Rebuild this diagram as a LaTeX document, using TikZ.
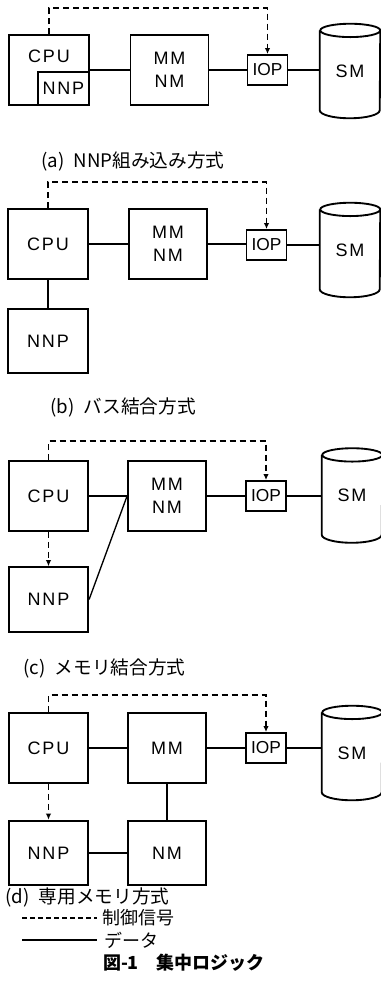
\documentclass[tikz,border=0pt]{standalone}
\usepackage{fontspec}
\setmainfont{Liberation Sans}
\newfontfamily\spacedfont[LetterSpace=10]{Liberation Sans}
\newfontfamily\jpfont{Noto Sans CJK JP}
\usetikzlibrary{arrows.meta}
\usetikzlibrary{positioning}

\tikzset{
  box/.style={line width=1.4pt},
  unit/.style={box, draw, inner sep=0pt, align=center, font=\spacedfont\fontsize{13.5}{17}\selectfont},
  cpu/.style={unit, minimum width=59.5pt, minimum height=52.5pt},
  mem/.style={unit, minimum width=58.5pt, minimum height=52.5pt},
  nnp/.style={unit, minimum width=59.5pt, minimum height=48.5pt},
  iop/.style={unit, minimum width=30pt, minimum height=22.5pt, font=\fontsize{13}{16}\selectfont},
  drum/.style={inner sep=0pt, minimum width=45pt, minimum height=70.5pt, font=\spacedfont\fontsize{13.5}{16}\selectfont},
  wire/.style={line width=1pt},
  ctrlline/.style={line width=1pt, dash pattern=on 4.5pt off 3pt},
  ctrl/.style={ctrlline, -{Latex[length=4.5pt,width=4pt]}},
  caption/.style={anchor=west, inner sep=0pt, font=\jpfont\fontsize{14}{16}\selectfont},
}

% drum outline round a node (secondary memory)
\newcommand{\smdrum}[1]{%
  \draw[box] ([yshift=-5pt]#1.north west) -- ([yshift=6pt]#1.south west)
    arc[start angle=180, end angle=360, x radius=22.5pt, y radius=6pt]
    -- ([yshift=-5pt]#1.north east)
    arc[start angle=0, end angle=180, x radius=22.5pt, y radius=5pt]
    arc[start angle=180, end angle=360, x radius=22.5pt, y radius=5pt];}

\begin{document}
\begin{tikzpicture}[x=0.75pt, y=-0.75pt]
  \useasboundingbox (0,0) rectangle (381,1008);

  % (a) NNP inside the CPU
  \node[cpu, label={[font=\spacedfont\fontsize{13.5}{16}\selectfont, yshift=10pt]center:CPU}] (cpuA) at (49,70) {};
  \node[unit, minimum width=38pt, minimum height=25pt, anchor=south east] (nnpA) at (cpuA.south east) {NNP};
  \node[mem]  (mmA)  at (169.5,70) {MM\\NM};
  \node[iop]  (iopA) at (267.5,70) {IOP};
  \node[drum] (smA)  at (350,71)   {SM};
  \smdrum{smA}
  \draw[wire] (cpuA.east) -- (mmA.west);
  \draw[wire] (mmA.east) -- (iopA.west);
  \draw[wire] (iopA.east) -- (iopA.east -| smA.west);
  \draw[ctrl] (cpuA.north) -- ++(0,-26) -| (iopA.north);
  \node[caption] (capA) at (41,161) {(a)\enspace NNP組み込み方式};

  % (b) bus coupling
  \node[cpu]  (cpuB) at (48,244)   {CPU};
  \node[nnp]  (nnpB) at (48,341)   {NNP};
  \node[mem]  (mmB)  at (168,244)  {MM\\NM};
  \node[iop]  (iopB) at (266.5,245) {IOP};
  \node[drum] (smB)  at (350,250)  {SM};
  \smdrum{smB}
  \draw[wire] (cpuB.east) -- (mmB.west);
  \draw[wire] (cpuB.south) -- (nnpB.north);
  \draw[wire] (mmB.east) -- (mmB.east -| iopB.west);
  \draw[wire] (iopB.east) -- (iopB.east -| smB.west);
  \draw[ctrl] (cpuB.north) -- ++(0,-26) -| (iopB.north);
  \node[caption] (capB) at (50,407) {(b)\enspace バス結合方式};

  % (c) memory coupling
  \node[cpu]  (cpuC) at (48.5,496) {CPU};
  \node[nnp]  (nnpC) at (48.5,599.5) {NNP};
  \node[mem]  (mmC)  at (167,496)  {MM\\NM};
  \node[iop]  (iopC) at (266,496)  {IOP};
  \node[drum] (smC)  at (352,495.5) {SM};
  \smdrum{smC}
  \draw[wire] (cpuC.east) -- (mmC.west);
  \draw[wire] (mmC.west) -- (nnpC.east);
  \draw[wire] (mmC.east) -- (iopC.west);
  \draw[wire] (iopC.east) -- (iopC.east -| smC.west);
  \draw[ctrl] (cpuC.north) -- ++(0,-19) -| (iopC.north);
  \draw[ctrl] (cpuC.south) -- (nnpC.north);
  \node[caption] (capC) at (23,668) {(c)\enspace メモリ結合方式};

  % (d) dedicated memory
  \node[cpu]  (cpuD) at (48.5,748) {CPU};
  \node[nnp]  (nnpD) at (48.5,853) {NNP};
  \node[mem]  (mmD)  at (167,748)  {MM};
  \node[nnp, minimum width=58.5pt] (nmD) at (167,853) {NM};
  \node[iop]  (iopD) at (266,748)  {IOP};
  \node[drum] (smD)  at (352,753)  {SM};
  \smdrum{smD}
  \draw[wire] (cpuD.east) -- (mmD.west);
  \draw[wire] (mmD.east) -- (iopD.west);
  \draw[wire] (iopD.east) -- (iopD.east -| smD.west);
  \draw[wire] (mmD.south) -- (nmD.north);
  \draw[wire] (nnpD.east) -- (nmD.west);
  \draw[ctrl] (cpuD.north) -- ++(0,-17) -| (iopD.north);
  \draw[ctrl] (cpuD.south) -- (nnpD.north);
  \node[caption] (capD) at (5,897) {(d)\enspace 専用メモリ方式};

  % legend
  \coordinate (legCtrl) at (22,918);
  \coordinate (legData) at (22,940);
  \node[caption, font=\jpfont\fontsize{13.5}{16}\selectfont] (legCtrlText) at (102,918) {制御信号};
  \node[caption, font=\jpfont\fontsize{13.5}{16}\selectfont] (legDataText) at (104,940) {データ};
  \draw[ctrlline, dash pattern=on 3.5pt off 2.5pt, shorten >=3.5pt] (legCtrl) -- (legCtrlText.west);
  \draw[wire, shorten >=5pt] (legData) -- (legDataText.west);

  % figure title
  \node[font=\jpfont\bfseries\fontsize{13.5}{16}\selectfont] (figTitle) at (184,963) {図-1\quad 集中ロジック};
\end{tikzpicture}
\end{document}
